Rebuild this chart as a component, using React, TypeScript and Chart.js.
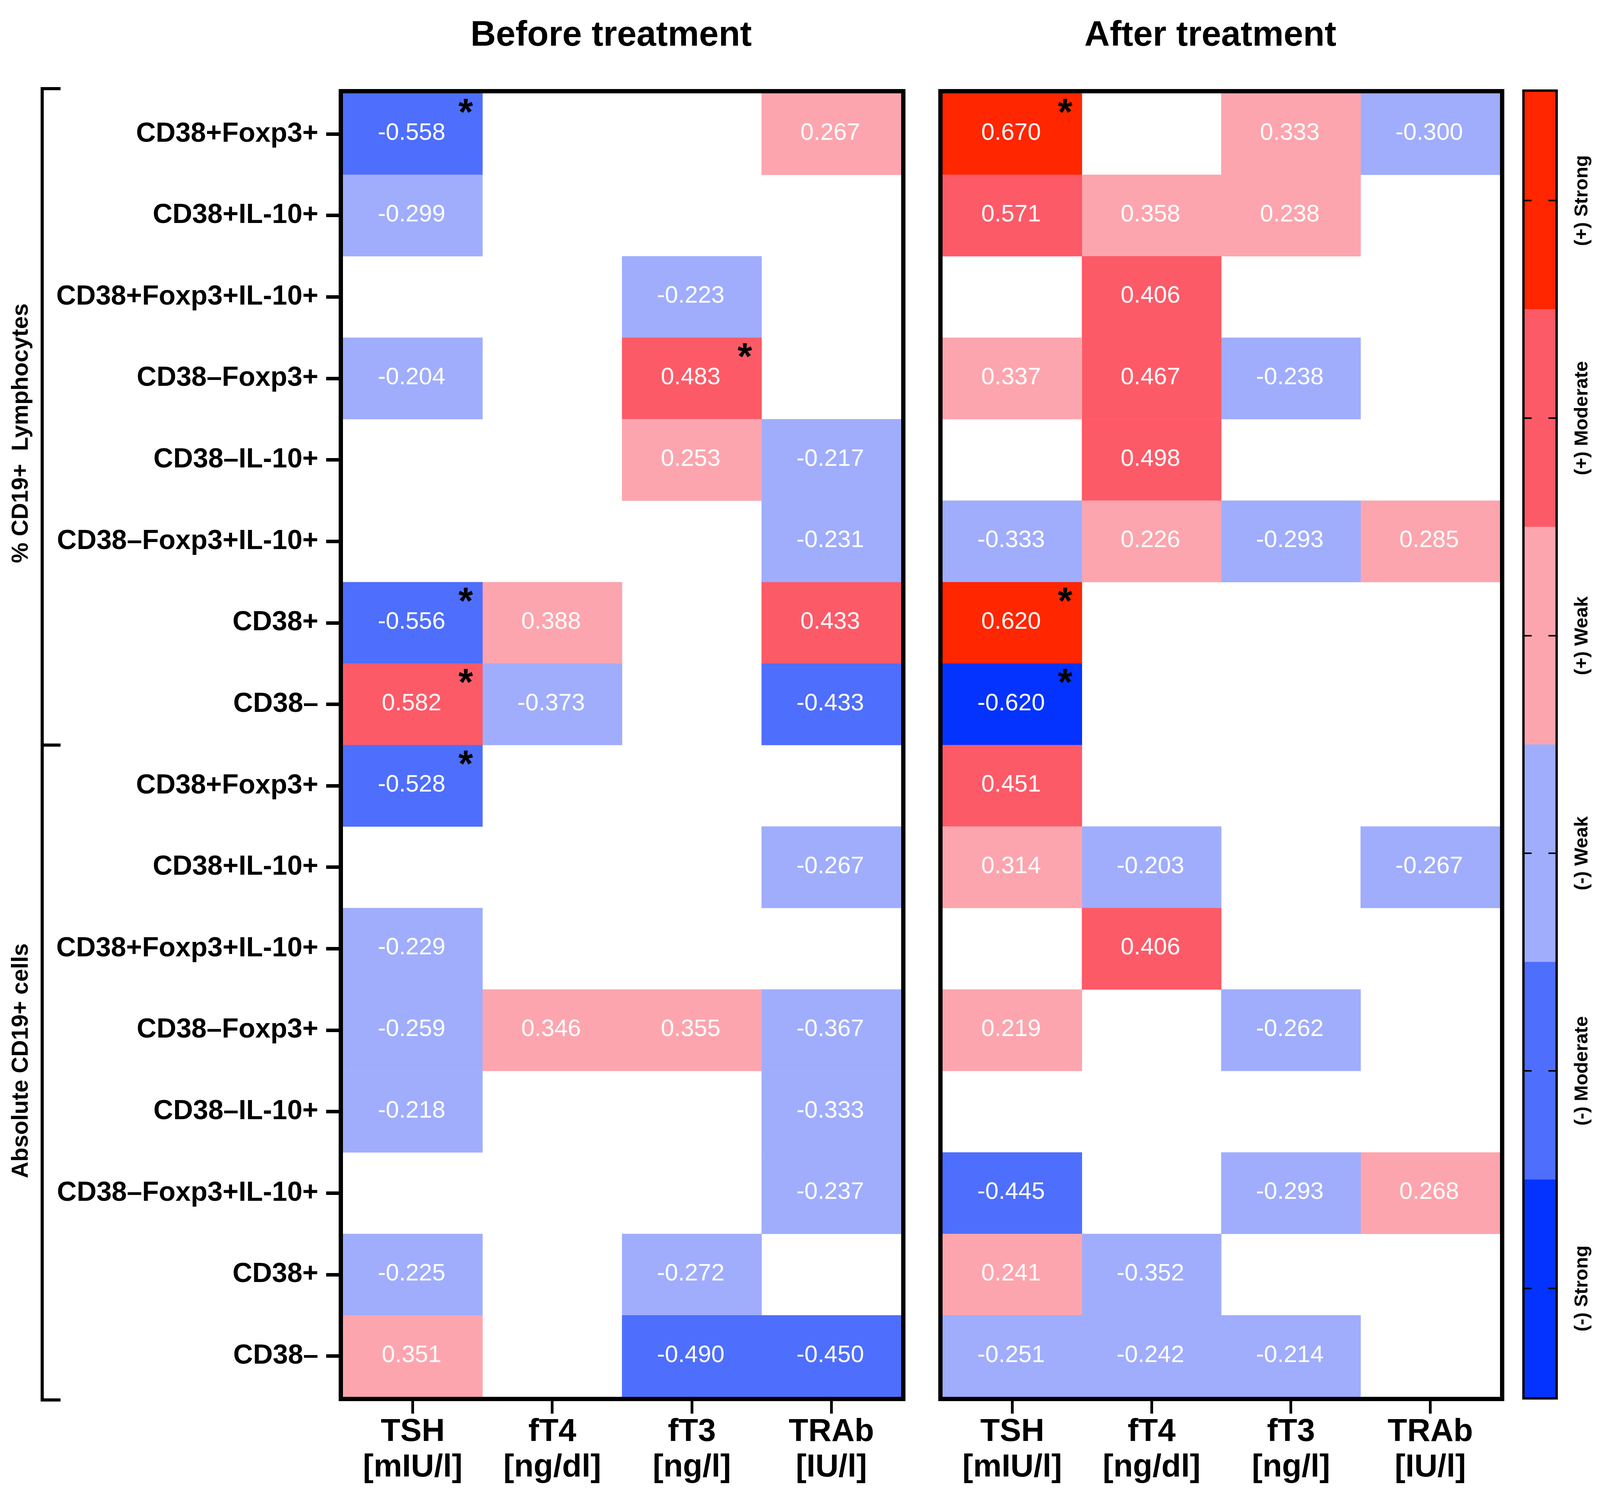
import React, { useEffect, useRef } from 'react';
import { Chart, registerables } from 'chart.js';

Chart.register(...registerables);

const W = 4108;
const H = 3854;
const FONT = "'Liberation Sans', Arial, Helvetica, sans-serif";

// ---------- data ----------
const rowLabels = [
  'CD38+Foxp3+', 'CD38+IL-10+', 'CD38+Foxp3+IL-10+', 'CD38–Foxp3+',
  'CD38–IL-10+', 'CD38–Foxp3+IL-10+', 'CD38+', 'CD38–',
  'CD38+Foxp3+', 'CD38+IL-10+', 'CD38+Foxp3+IL-10+', 'CD38–Foxp3+',
  'CD38–IL-10+', 'CD38–Foxp3+IL-10+', 'CD38+', 'CD38–',
];
const groupLabels = ['% CD19+  Lymphocytes', 'Absolute CD19+ cells'];
const columnLabels = [['TSH', '[mIU/l]'], ['fT4', '[ng/dl]'], ['fT3', '[ng/l]'], ['TRAb', '[IU/l]']];
const panelTitles = ['Before treatment', 'After treatment'];

const beforeTSH = [-0.558, -0.299, null, -0.204, null, null, -0.556, 0.582, -0.528, null, -0.229, -0.259, -0.218, null, -0.225, 0.351];
const beforeFT4 = [null, null, null, null, null, null, 0.388, -0.373, null, null, null, 0.346, null, null, null, null];
const beforeFT3 = [null, null, -0.223, 0.483, 0.253, null, null, null, null, null, null, 0.355, null, null, -0.272, -0.49];
const beforeTRAb = [0.267, null, null, null, -0.217, -0.231, 0.433, -0.433, null, -0.267, null, -0.367, -0.333, -0.237, null, -0.45];

const afterTSH = [0.67, 0.571, null, 0.337, null, -0.333, 0.62, -0.62, 0.451, 0.314, null, 0.219, null, -0.445, 0.241, -0.251];
const afterFT4 = [null, 0.358, 0.406, 0.467, 0.498, 0.226, null, null, null, -0.203, 0.406, null, null, null, -0.352, -0.242];
const afterFT3 = [0.333, 0.238, null, -0.238, null, -0.293, null, null, null, null, null, -0.262, null, -0.293, null, -0.214];
const afterTRAb = [-0.3, null, null, null, null, 0.285, null, null, null, -0.267, null, null, null, 0.268, null, null];

// significant cells: [row, column]
const beforeStars = [[0, 0], [3, 2], [6, 0], [7, 0], [8, 0]];
const afterStars = [[0, 0], [6, 0], [7, 0]];

const legendLabels = ['(-) Strong', '(-) Moderate', '(-) Weak', '(+) Weak', '(+) Moderate', '(+) Strong'];
const legendColors = ['#0433FF', '#4E6EFE', '#A0ADFD', '#FDA5AE', '#FD5A68', '#FF2600'];
const binEdges = [-0.6, -0.4, 0, 0.4, 0.6];

function colorFor(v: number): string {
  let k = 0;
  for (const e of binEdges) {
    if (e <= 0 ? v > e : v >= e) k++;
  }
  return legendColors[k];
}

function makeDatasets(cols: (number | null)[][], stars: number[][]) {
  return cols.map((vals, c) => ({
    label: columnLabels[c][0],
    data: vals.map((v) => (v == null ? null : [c, c + 1])),
    values: vals,
    stars: stars.filter((s) => s[1] === c).map((s) => s[0]),
    backgroundColor: vals.map((v) => (v == null ? 'rgba(0,0,0,0)' : colorFor(v))),
    borderWidth: 0,
    barPercentage: 1,
    categoryPercentage: 1,
    grouped: false,
  }));
}

const cellTextPlugin = {
  id: 'cellText',
  afterDatasetsDraw(chart: any) {
    const ctx = chart.ctx;
    ctx.save();
    chart.data.datasets.forEach((ds: any, d: number) => {
      const meta = chart.getDatasetMeta(d);
      meta.data.forEach((el: any, i: number) => {
        const v = ds.values[i];
        if (v == null) return;
        const p = el.getProps(['x', 'y', 'base', 'height'], true);
        const cx = (p.x + p.base) / 2;
        ctx.fillStyle = '#ffffff';
        ctx.font = `61px ${FONT}`;
        ctx.textAlign = 'center';
        ctx.textBaseline = 'middle';
        ctx.fillText(v.toFixed(3), cx - 3, p.y - 2);
        if (ds.stars.includes(i)) {
          const right = Math.max(p.x, p.base);
          const top = p.y - p.height / 2;
          ctx.fillStyle = '#000000';
          ctx.font = `bold 96px ${FONT}`;
          ctx.textBaseline = 'alphabetic';
          ctx.fillText('*', right - 43, top + 80);
        }
      });
    });
    ctx.restore();
  },
};

function framePlugin(title: string, withGroups: boolean) {
  return {
    id: 'frame',
    afterDraw(chart: any) {
      const { ctx, chartArea: a } = chart;
      ctx.save();
      ctx.strokeStyle = '#000';
      ctx.lineWidth = 11;
      ctx.strokeRect(a.left - 5.5, a.top - 5.5, a.right - a.left + 11, a.bottom - a.top + 11);
      ctx.fillStyle = '#000';
      ctx.font = `bold 90px ${FONT}`;
      ctx.textAlign = 'center';
      ctx.textBaseline = 'alphabetic';
      ctx.fillText(title, (a.left + a.right) / 2 - 28, 117);
      if (withGroups) {
        const y = chart.scales.y;
        const half = (y.getPixelForValue(1) - y.getPixelForValue(0)) / 2;
        const yTop = a.top - 12;
        const yMid = y.getPixelForValue(7) + half;
        const yBot = a.bottom + 8;
        const bx = 108;
        ctx.lineWidth = 8;
        ctx.beginPath();
        ctx.moveTo(155, yTop);
        ctx.lineTo(bx, yTop);
        ctx.lineTo(bx, yBot);
        ctx.lineTo(155, yBot);
        ctx.moveTo(bx, yMid);
        ctx.lineTo(155, yMid);
        ctx.stroke();
        ctx.font = `bold 59px ${FONT}`;
        ctx.textBaseline = 'middle';
        const centers = [(yTop + yMid) / 2 + 42, (yMid + yBot) / 2 - 30];
        groupLabels.forEach((g, k) => {
          ctx.save();
          ctx.translate(55, centers[k]);
          ctx.rotate(-Math.PI / 2);
          ctx.fillText(g, 0, 0);
          ctx.restore();
        });
      }
      ctx.restore();
    },
  };
}

function panelConfig(cols: (number | null)[][], stars: number[][], title: string, showY: boolean, padding: any): any {
  return {
    type: 'bar',
    data: { labels: rowLabels, datasets: makeDatasets(cols, stars) },
    options: {
      indexAxis: 'y',
      responsive: false,
      animation: false,
      devicePixelRatio: 1,
      events: [],
      layout: { padding },
      plugins: { legend: { display: false }, tooltip: { enabled: false }, title: { display: false } },
      scales: {
        x: {
          type: 'linear',
          position: 'bottom',
          min: 0,
          max: columnLabels.length,
          afterBuildTicks: (s: any) => {
            s.ticks = columnLabels.map((_, i) => ({ value: i + 0.5 }));
          },
          afterFit: (s: any) => {
            s.height = H - 3577;
          },
          ticks: {
            autoSkip: false,
            maxRotation: 0,
            minRotation: 0,
            padding: 1,
            color: '#000',
            font: { family: FONT, size: 82, weight: 'bold', lineHeight: 1.12 },
            callback: (_v: any, i: number) => columnLabels[i],
          },
          grid: { drawOnChartArea: false, drawTicks: true, tickLength: 43, tickWidth: 7, tickColor: '#000' },
          border: { display: false },
        },
        y: {
          type: 'category',
          display: showY,
          offset: true,
          afterFit: (s: any) => {
            s.width = showY ? 878 : 0;
          },
          ticks: {
            autoSkip: false,
            padding: 20,
            color: '#000',
            font: { family: FONT, size: 70, weight: 'bold' },
          },
          grid: { drawOnChartArea: false, drawTicks: true, tickLength: 43, tickWidth: 9, tickColor: '#000', offset: false },
          border: { display: false },
        },
      },
    },
    plugins: [cellTextPlugin, framePlugin(title, showY)],
  };
}

const colorbarPlugin = {
  id: 'colorbarDeco',
  afterDraw(chart: any) {
    const { ctx, chartArea: a } = chart;
    const y = chart.scales.y;
    ctx.save();
    ctx.strokeStyle = '#000';
    ctx.lineWidth = 6;
    ctx.strokeRect(a.left - 3, a.top - 3, a.right - a.left + 6, a.bottom - a.top + 6);
    ctx.lineWidth = 4;
    ctx.fillStyle = '#000';
    ctx.font = `bold 49px ${FONT}`;
    ctx.textAlign = 'center';
    ctx.textBaseline = 'middle';
    legendLabels.forEach((lab, i) => {
      const py = y.getPixelForValue(i + 0.5);
      ctx.beginPath();
      ctx.moveTo(a.left, py);
      ctx.lineTo(a.left + 18, py);
      ctx.moveTo(a.right - 18, py);
      ctx.lineTo(a.right, py);
      ctx.stroke();
      ctx.save();
      ctx.translate(4050, py);
      ctx.rotate(-Math.PI / 2);
      ctx.fillText(lab, 0, 0);
      ctx.restore();
    });
    ctx.restore();
  },
};

function colorbarConfig(): any {
  return {
    type: 'bar',
    data: {
      labels: ['scale'],
      datasets: legendLabels.map((lab, i) => ({
        label: lab,
        data: [[i, i + 1]],
        backgroundColor: legendColors[i],
        borderWidth: 0,
        barPercentage: 1,
        categoryPercentage: 1,
        grouped: false,
      })),
    },
    options: {
      responsive: false,
      animation: false,
      devicePixelRatio: 1,
      events: [],
      layout: { padding: { left: 3903, right: W - 3982, top: 235, bottom: H - 3578 } },
      plugins: { legend: { display: false }, tooltip: { enabled: false } },
      scales: {
        x: { display: false, offset: true },
        y: { display: false, min: 0, max: legendLabels.length },
      },
    },
    plugins: [colorbarPlugin],
  };
}

export default function App() {
  const leftRef = useRef<HTMLCanvasElement>(null);
  const rightRef = useRef<HTMLCanvasElement>(null);
  const barRef = useRef<HTMLCanvasElement>(null);

  useEffect(() => {
    document.body.style.margin = '0';
    document.body.style.overflow = 'hidden';
    const charts = [
      new Chart(
        leftRef.current as HTMLCanvasElement,
        panelConfig([beforeTSH, beforeFT4, beforeFT3, beforeTRAb], beforeStars, panelTitles[0], true, {
          left: 0, top: 239, right: W - 2307, bottom: 0,
        })
      ),
      new Chart(
        rightRef.current as HTMLCanvasElement,
        panelConfig([afterTSH, afterFT4, afterFT3, afterTRAb], afterStars, panelTitles[1], false, {
          left: 2413, top: 239, right: W - 3840, bottom: 0,
        })
      ),
      new Chart(barRef.current as HTMLCanvasElement, colorbarConfig()),
    ];
    return () => charts.forEach((c) => c.destroy());
  }, []);

  const cs: React.CSSProperties = { position: 'absolute', left: 0, top: 0, width: W, height: H };
  return (
    <div style={{ position: 'absolute', left: 0, top: 0, width: W, height: H, background: '#fff', overflow: 'hidden' }}>
      <canvas ref={leftRef} width={W} height={H} style={cs} />
      <canvas ref={rightRef} width={W} height={H} style={cs} />
      <canvas ref={barRef} width={W} height={H} style={cs} />
    </div>
  );
}
